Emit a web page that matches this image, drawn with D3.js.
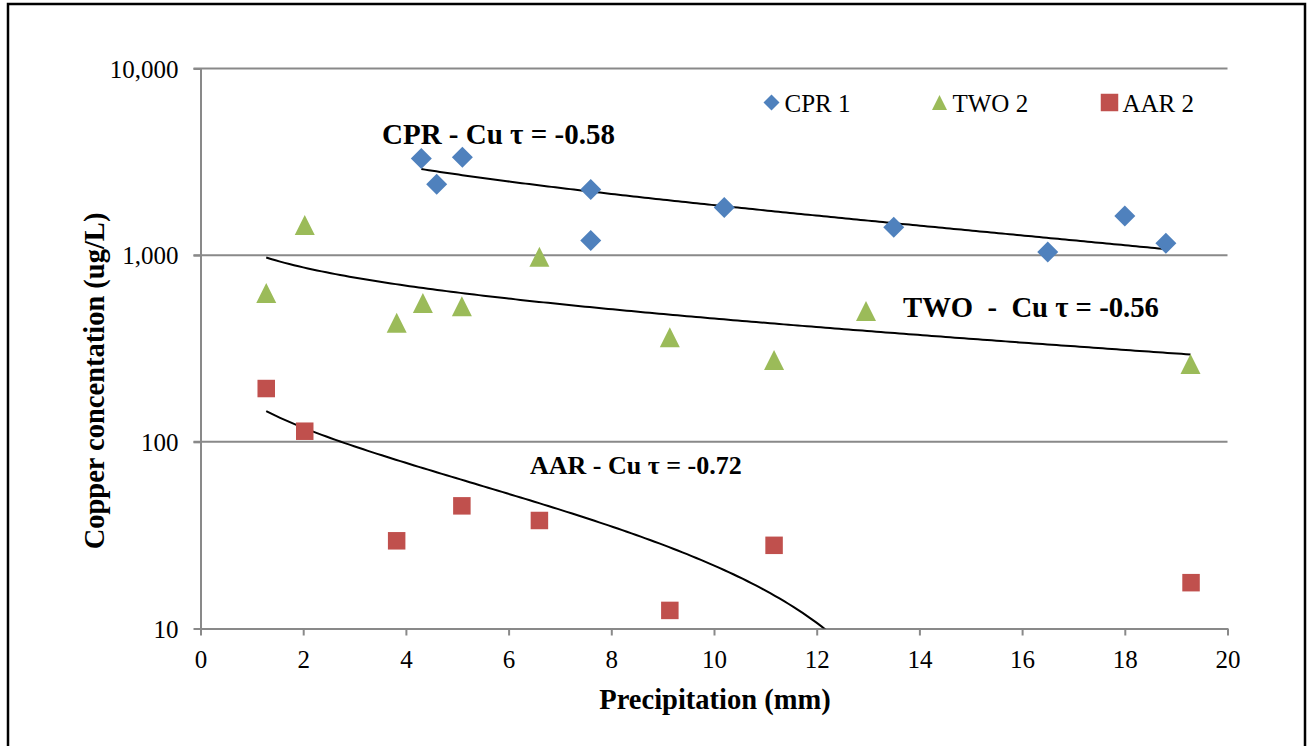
<!DOCTYPE html>
<html>
<head>
<meta charset="utf-8">
<script src="https://cdn.jsdelivr.net/npm/d3@7"></script>
<style>
  html, body { margin: 0; padding: 0; background: #fff; }
  svg { display: block; font-family: "Liberation Serif", "Times New Roman", serif; }
  .axis path, .axis line { stroke: #898989; stroke-width: 2; }
  .axis text { font-family: "Liberation Serif", "Times New Roman", serif; font-size: 25px; fill: #000; }
  .grid line { stroke: #898989; stroke-width: 2; }
</style>
</head>
<body>
<div id="chart"></div>
<script>
// Copper concentration vs precipitation, three sites, log y axis

const xTicks = [0, 2, 4, 6, 8, 10, 12, 14, 16, 18, 20];
const yTicks = [10, 100, 1000, 10000];

// CPR 1
const cprPrecip = [4.3, 4.6, 5.1, 7.6, 7.6, 10.2, 13.5, 16.5, 18.0, 18.8];
const cprCopper = [3300, 2400, 3350, 2250, 1200, 1800, 1410, 1040, 1620, 1160];

// TWO 2
const twoPrecip = [1.28, 2.03, 3.82, 4.33, 5.09, 6.6, 9.14, 11.17, 12.96, 19.28];
const twoCopper = [627, 1450, 434, 554, 533, 980, 363, 274, 502, 261];

// AAR 2
const aarPrecip = [1.28, 2.03, 3.82, 5.09, 6.6, 9.14, 11.17, 19.29];
const aarCopper = [193, 114, 29.5, 45.4, 37.9, 12.5, 27.9, 17.6];

const seriesNames = ['CPR 1', 'TWO 2', 'AAR 2'];
const tauLabels = ['CPR - Cu \u03c4 = -0.58', 'TWO  -  Cu \u03c4 = -0.56', 'AAR - Cu \u03c4 = -0.72'];

const W = 1307, H = 746;
const margin = { top: 68.5, right: 79.5, bottom: 117.5, left: 200.5 };
const iw = W - margin.left - margin.right;
const ih = H - margin.top - margin.bottom;
const serif = '"Liberation Serif", "Times New Roman", serif';

const svg = d3.select('#chart').append('svg')
    .attr('width', W)
    .attr('height', H);

// outer frame
svg.append('rect')
    .attr('x', 8).attr('y', 4)
    .attr('width', 1297).attr('height', 780)
    .attr('fill', 'none')
    .attr('stroke', '#000')
    .attr('stroke-width', 2.5);

const g = svg.append('g').attr('transform', `translate(${margin.left},${margin.top})`);

const x = d3.scaleLinear().domain([0, 20]).range([0, iw]);
const y = d3.scaleLog().domain([10, 10000]).range([ih, 0]);

// horizontal gridlines
g.append('g').attr('class', 'grid')
    .selectAll('line')
    .data(yTicks.slice(1))
    .join('line')
    .attr('x1', -7).attr('x2', iw)
    .attr('y1', d => y(d)).attr('y2', d => y(d));

const yAxis = g.append('g').attr('class', 'axis')
    .call(d3.axisLeft(y).tickValues(yTicks).tickFormat(d3.format(',')).tickSize(7).tickSizeOuter(0).tickPadding(15));
yAxis.attr('font-family', serif);
yAxis.selectAll('text').attr('dy', '0.35em');

g.append('g').attr('class', 'axis')
    .attr('transform', `translate(0,${ih})`)
    .call(d3.axisBottom(x).tickValues(xTicks).tickSize(7).tickSizeOuter(0).tickPadding(15))
    .attr('font-family', serif);

// axis titles
svg.append('text')
    .attr('x', margin.left + iw / 2 + 1)
    .attr('y', 709)
    .attr('text-anchor', 'middle')
    .attr('font-size', 28.5)
    .attr('font-weight', 'bold')
    .text('Precipitation (mm)');

svg.append('text')
    .attr('transform', 'translate(104,381) rotate(-90)')
    .attr('text-anchor', 'middle')
    .attr('font-size', 28.5)
    .attr('font-weight', 'bold')
    .text('Copper concentation (ug/L)');

// marker shapes
const diamond = {
    draw(ctx, size) {
        const r = Math.sqrt(size) / 2;
        ctx.moveTo(0, -r); ctx.lineTo(r, 0); ctx.lineTo(0, r); ctx.lineTo(-r, 0); ctx.closePath();
    }
};
const triangle = {
    draw(ctx, size) {
        const r = Math.sqrt(size) / 2;
        ctx.moveTo(0, -r); ctx.lineTo(r, r); ctx.lineTo(-r, r); ctx.closePath();
    }
};
const square = {
    draw(ctx, size) {
        const r = Math.sqrt(size) / 2;
        ctx.rect(-r, -r, 2 * r, 2 * r);
    }
};

const series = [
    { name: seriesNames[0], xs: cprPrecip, ys: cprCopper, color: '#4F81BD', shape: diamond, size: 21 * 21 },
    { name: seriesNames[1], xs: twoPrecip, ys: twoCopper, color: '#9BBB59', shape: triangle, size: 20 * 20 },
    { name: seriesNames[2], xs: aarPrecip, ys: aarCopper, color: '#C0504D', shape: square, size: 17.5 * 17.5 }
];

// logarithmic trendline: copper = a + b * ln(precip), least squares
function logFit(xs, ys) {
    const lx = xs.map(Math.log);
    const mx = d3.mean(lx), my = d3.mean(ys);
    let sxy = 0, sxx = 0;
    lx.forEach((v, i) => { sxy += (v - mx) * (ys[i] - my); sxx += (v - mx) * (v - mx); });
    const b = sxy / sxx;
    return { a: my - b * mx, b };
}

g.append('clipPath').attr('id', 'plot-clip')
    .append('rect').attr('width', iw).attr('height', ih);

const trendLine = d3.line()
    .defined(d => d[1] > 0)
    .x(d => x(d[0]))
    .y(d => y(d[1]));

series.forEach(s => {
    const fit = logFit(s.xs, s.ys);
    const [x0, x1] = d3.extent(s.xs);
    const pts = d3.range(0, 201).map(i => {
        const px = x0 + (x1 - x0) * i / 200;
        return [px, fit.a + fit.b * Math.log(px)];
    });
    g.append('path')
        .datum(pts)
        .attr('clip-path', 'url(#plot-clip)')
        .attr('fill', 'none')
        .attr('stroke', '#000')
        .attr('stroke-width', 2)
        .attr('d', trendLine);
});

// points
series.forEach(s => {
    const sym = d3.symbol().type(s.shape).size(s.size);
    g.append('g')
        .selectAll('path')
        .data(s.xs.map((v, i) => [v, s.ys[i]]))
        .join('path')
        .attr('transform', d => `translate(${x(d[0])},${y(d[1])})`)
        .attr('fill', s.color)
        .attr('d', sym);
});

// legend
const legendX = [771.5, 939.5, 1109.5];
const legendSizes = [16 * 16, 15 * 15, 17.5 * 17.5];
const legend = svg.append('g');
series.forEach((s, i) => {
    legend.append('path')
        .attr('transform', `translate(${legendX[i]},${102.5})`)
        .attr('fill', s.color)
        .attr('d', d3.symbol().type(s.shape).size(legendSizes[i])());
    legend.append('text')
        .attr('x', legendX[i] + 13)
        .attr('y', 111.5)
        .attr('font-size', 25)
        .text(s.name);
});

// Kendall tau annotations
const tauPos = [[382, 144], [903, 317], [530, 474]];
const tauSize = [29, 28.7, 26];
svg.append('g')
    .selectAll('text')
    .data(tauLabels)
    .join('text')
    .attr('x', (d, i) => tauPos[i][0])
    .attr('y', (d, i) => tauPos[i][1])
    .attr('font-size', (d, i) => tauSize[i])
    .attr('font-weight', 'bold')
    .attr('xml:space', 'preserve')
    .style('white-space', 'pre')
    .text(d => d);
</script>
</body>
</html>
